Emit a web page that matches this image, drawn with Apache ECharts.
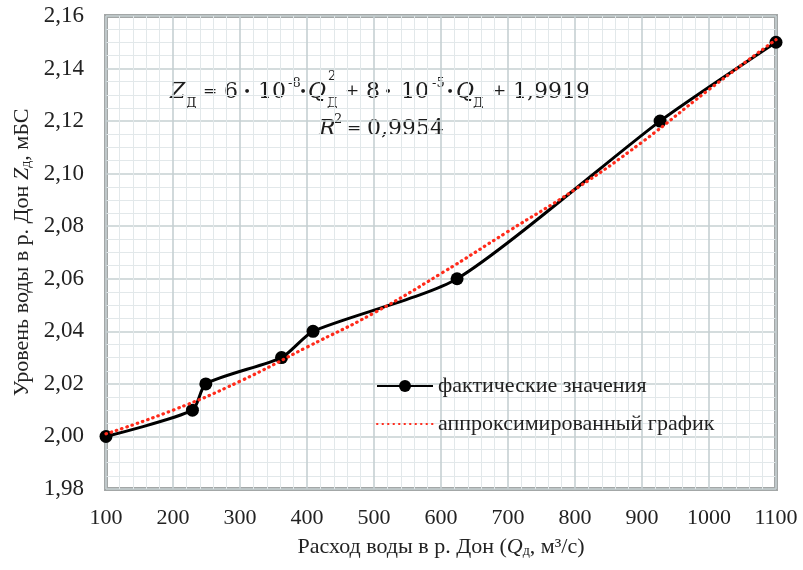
<!DOCTYPE html>
<html>
<head>
<meta charset="utf-8">
<script src="https://cdn.jsdelivr.net/npm/echarts@6/dist/echarts.min.js"></script>
<style>
  html, body { margin: 0; padding: 0; background: #fff; }
  #chart { width: 803px; height: 570px; }
</style>
</head>
<body>
<div id="chart"></div>
<script>
// Measured discharge (m³/s) and water level (m BS) of the Don
const flowQ  = [100, 229, 249, 362, 409, 624, 927, 1100];
const levelZ = [2.00, 2.01, 2.02, 2.03, 2.04, 2.06, 2.12, 2.15];

// Quadratic trend line read along its course
const trendQ = [100, 200, 300, 400, 500, 600, 700, 800, 900, 1000, 1100];
const trendZ = [2.001, 2.010, 2.021, 2.034, 2.047, 2.062, 2.078, 2.094, 2.112, 2.132, 2.151];

// Axis settings
const xTicks = { min: 100, max: 1100, step: 100 };
const yTicks = { min: 1.98, max: 2.16, step: 0.02 };

const seriesNames = ['фактические значения', 'аппроксимированный график'];

const SERIF = 'Liberation Serif';
const EQ = 'DejaVu Serif';

const chart = echarts.init(document.getElementById('chart'), null, { renderer: 'canvas' });

// One piece of the regression formula drawn as free text
function piece(x, y, text, size, opts) {
  opts = opts || {};
  return {
    type: 'text', x: x, y: y, silent: true,
    style: {
      text: text, fill: '#1c1c1c',
      font: (opts.italic ? 'italic ' : '') + size + 'px "' + EQ + '"',
      align: opts.align || 'left', verticalAlign: 'middle'
    }
  };
}

const BIG = 22, SMALL = 13, DOT = 13, OP = 17;
const L1 = 92, L2 = 129;
const C = { align: 'center' };
const equation = [
  piece(170, L1, 'Z', BIG, { italic: true }),
  piece(186, L1 + 12, 'Д', SMALL),
  piece(210, L1, '=', OP, C),
  piece(231, L1, '6', BIG, C),
  piece(247, L1 + 1, '•', DOT, C),
  piece(272, L1, '10', BIG, C),
  piece(288, L1 - 8, '-8', SMALL),
  piece(303, L1 + 1, '•', DOT, C),
  piece(308, L1, 'Q', BIG, { italic: true }),
  piece(328, L1 - 15, '2', SMALL),
  piece(327, L1 + 12, 'Д', SMALL),
  piece(352, L1, '+', OP, C),
  piece(373, L1, '8', BIG, C),
  piece(388, L1 + 1, '•', DOT, C),
  piece(415, L1, '10', BIG, C),
  piece(432, L1 - 8, '-5', SMALL),
  piece(450, L1 + 1, '•', DOT, C),
  piece(456, L1, 'Q', BIG, { italic: true }),
  piece(473, L1 + 12, 'Д', SMALL),
  piece(499, L1, '+', OP, C),
  piece(513, L1, '1,9919', BIG),
  piece(319, L2, 'R', BIG, { italic: true }),
  piece(334, L2 - 9, '2', SMALL),
  piece(354, L2, '=', OP, C),
  piece(367, L2, '0,9954', BIG)
];

const nameRich = {
  i: { fontFamily: SERIF, fontSize: 22, fontStyle: 'italic', color: '#222' },
  s: { fontFamily: SERIF, fontSize: 14, color: '#222', verticalAlign: 'bottom', padding: [6, 0, 0, 0] }
};

const option = {
  backgroundColor: '#ffffff',
  animation: false,
  grid: {
    left: 106, right: 27, top: 16, bottom: 81,
    containLabel: false,
    outerBoundsMode: 'none',
    show: true,
    borderColor: '#a3a7a7',
    borderWidth: 4,
    backgroundColor: 'transparent'
  },
  legend: {
    orient: 'vertical',
    left: 371, top: 370,
    padding: 5,
    itemWidth: 56, itemHeight: 15, itemGap: 16,
    data: [
      { name: seriesNames[0] },
      { name: seriesNames[1], itemStyle: { opacity: 0 } }
    ],
    textStyle: { fontFamily: SERIF, fontSize: 22, color: '#222' }
  },
  xAxis: {
    type: 'value',
    min: xTicks.min, max: xTicks.max, interval: xTicks.step,
    axisLine: { show: false },
    axisTick: { show: false },
    axisLabel: { fontFamily: SERIF, fontSize: 22, color: '#222', margin: 18, formatter: v => String(v) },
    splitLine: { show: true, lineStyle: { color: '#c6d0d2', width: 1.6 } },
    minorTick: { show: false, splitNumber: 5 },
    minorSplitLine: { show: true, lineStyle: { color: '#e2e8ea', width: 1 } },
    name: 'Расход воды в р. Дон ({i|Q}{s|д}, м³/с)',
    nameLocation: 'middle',
    nameGap: 47,
    nameTextStyle: { fontFamily: SERIF, fontSize: 22, color: '#222', rich: nameRich }
  },
  yAxis: {
    type: 'value',
    min: yTicks.min, max: yTicks.max, interval: yTicks.step,
    axisLine: { show: false },
    axisTick: { show: false },
    axisLabel: {
      fontFamily: SERIF, fontSize: 23, color: '#222', margin: 22,
      formatter: v => v.toFixed(2).replace('.', ',')
    },
    splitLine: { show: true, lineStyle: { color: '#c6d0d2', width: 1.6 } },
    minorTick: { show: false, splitNumber: 4 },
    minorSplitLine: { show: true, lineStyle: { color: '#e2e8ea', width: 1 } },
    name: 'Уровень воды в р. Дон {i|Z}{s|д}, мБС',
    nameLocation: 'middle',
    nameGap: 70,
    nameRotate: 90,
    nameTextStyle: { fontFamily: SERIF, fontSize: 22, color: '#222', rich: nameRich }
  },
  series: [
    {
      name: seriesNames[0],
      type: 'line',
      data: flowQ.map((q, i) => [q, levelZ[i]]),
      smooth: 0.22,
      symbol: 'circle',
      symbolSize: 13,
      itemStyle: { color: '#000' },
      lineStyle: { color: '#000', width: 3 },
      z: 3
    },
    {
      name: seriesNames[1],
      type: 'line',
      data: trendQ.map((q, i) => [q, trendZ[i]]),
      smooth: true,
      symbol: 'none',
      itemStyle: { color: '#ff2a1a' },
      lineStyle: { color: '#ff2a1a', width: 3.2, type: [0.5, 5], cap: 'round' },
      z: 4
    }
  ],
  graphic: equation
};

chart.setOption(option);
</script>
</body>
</html>
